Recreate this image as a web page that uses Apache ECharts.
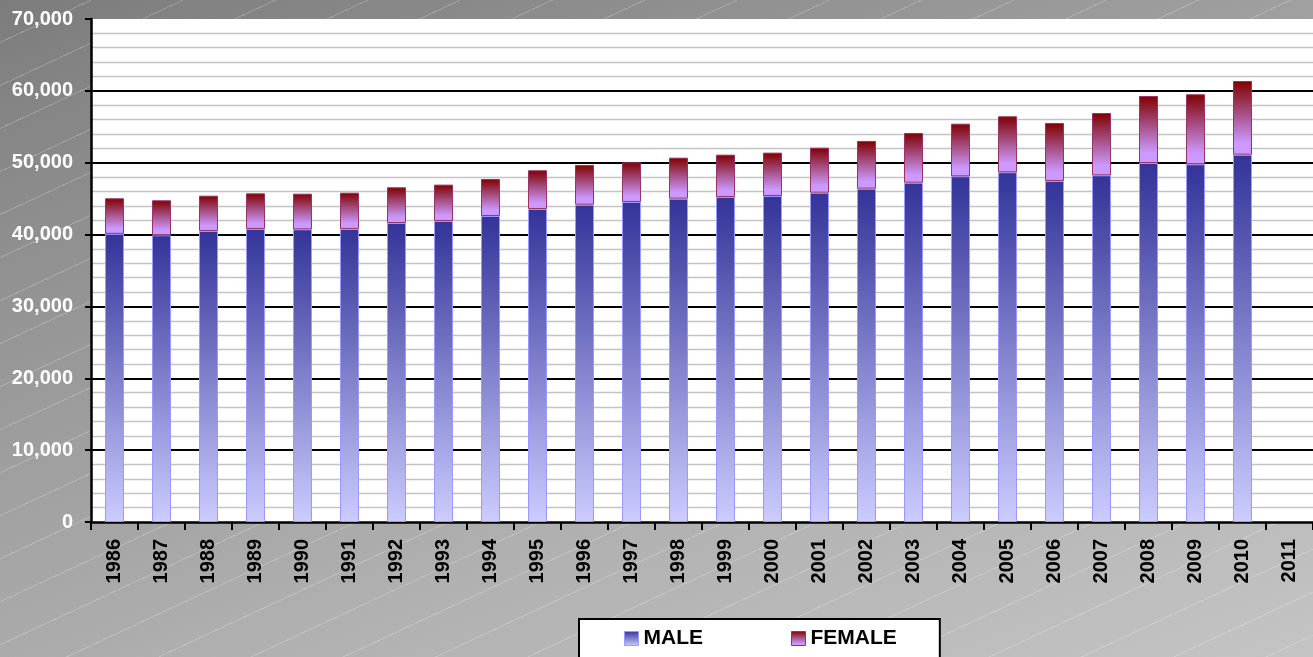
<!DOCTYPE html>
<html>
<head>
<meta charset="utf-8">
<script src="https://cdn.jsdelivr.net/npm/echarts@6/dist/echarts.min.js"></script>
<style>
html, body { margin:0; padding:0; width:1313px; height:657px; overflow:hidden; }
body {
  background:
    repeating-linear-gradient(155deg, rgba(255,255,255,0) 0px, rgba(255,255,255,0) 38px, rgba(255,255,255,0.22) 38px, rgba(255,255,255,0.22) 39px),
    linear-gradient(160deg, #7c7c7c 0%, #9a9a9a 35%, #b0b0b0 65%, #c4c4c4 100%);
}
#chart { width:1313px; height:657px; }
</style>
</head>
<body>
<div id="chart"></div>
<script>
var years = ['1986','1987','1988','1989','1990','1991','1992','1993','1994','1995','1996','1997','1998','1999','2000','2001','2002','2003','2004','2005','2006','2007','2008','2009','2010','2011'];
var maleValues = [40100,39900,40500,40780,40730,40780,41610,41890,42590,43560,44160,44540,45000,45230,45370,45830,46390,47220,48110,48670,47460,48250,49960,49780,51120,null];
var femaleValues = [4950,4870,4910,4960,4960,5050,4970,5060,5150,5390,5530,5520,5700,5890,6030,6260,6640,6920,7320,7790,8070,8670,9330,9740,10250,null];
var yTicks = { min: 0, max: 70000, interval: 10000 };

var maleGrad = new echarts.graphic.LinearGradient(0,0,0,1,[{offset:0,color:'#333399'},{offset:1,color:'#ccccff'}]);
var femaleGrad = new echarts.graphic.LinearGradient(0,0,0,1,[{offset:0,color:'#800000'},{offset:0.85,color:'#cc99ff'},{offset:1,color:'#cc99ff'}]);

var chart = echarts.init(document.getElementById('chart'), null, {renderer:'canvas'});
chart.setOption({
  backgroundColor: 'transparent',
  animation: false,
  grid: { left: 91, top: 19, bottom: 135, right: -8, show: true, backgroundColor: '#ffffff', borderWidth: 0, containLabel: false },
  legend: {
    left: 579, top: 619,
    backgroundColor: '#ffffff', borderColor: '#000000', borderWidth: 2,
    padding: [9, 43, 20, 45],
    itemGap: 88, itemWidth: 14, itemHeight: 14, icon: 'rect',
    textStyle: { fontFamily: 'Liberation Sans, Arial, sans-serif', fontWeight: 'bold', fontSize: 21, color: '#000' },
    data: [
      { name: 'MALE', itemStyle: { color: maleGrad, borderColor: '#9999ff', borderWidth: 1 } },
      { name: 'FEMALE', itemStyle: { color: femaleGrad, borderColor: '#993366', borderWidth: 1 } }
    ]
  },
  xAxis: {
    type: 'category', data: years, boundaryGap: true,
    axisLine: { show: true, lineStyle: { color: '#000', width: 2.5 } },
    axisTick: { show: true, length: 8, interval: 0, lineStyle: { color: '#000', width: 2 } },
    axisLabel: { interval: 0, rotate: 90, margin: 17, fontFamily: 'Liberation Sans, Arial, sans-serif', fontWeight: 'bold', fontSize: 20, color: '#000' },
    splitLine: { show: false }
  },
  yAxis: {
    type: 'value', min: yTicks.min, max: yTicks.max, interval: yTicks.interval,
    axisLine: { show: true, lineStyle: { color: '#000', width: 2.5 } },
    axisTick: { show: true, length: 6, lineStyle: { color: '#000', width: 2 } },
    axisLabel: { margin: 18, fontFamily: 'Liberation Sans, Arial, sans-serif', fontWeight: 'bold', fontSize: 20, color: '#ffffff',
      formatter: function(v){ return v.toLocaleString('en-US'); } },
    splitLine: { show: true, showMinLine: false, showMaxLine: false, lineStyle: { color: '#000', width: 2 } },
    minorTick: { show: false, splitNumber: 5 },
    minorSplitLine: { show: true, lineStyle: { color: '#c4c4c4', width: 1.3 } }
  },
  series: [
    { name: 'MALE', type: 'bar', stack: 'total', barWidth: 19, data: maleValues,
      itemStyle: { color: maleGrad, borderColor: '#9999ff', borderWidth: 1 } },
    { name: 'FEMALE', type: 'bar', stack: 'total', barWidth: 19, data: femaleValues,
      itemStyle: { color: femaleGrad, borderColor: '#993366', borderWidth: 1 } }
  ]
});
</script>
</body>
</html>
